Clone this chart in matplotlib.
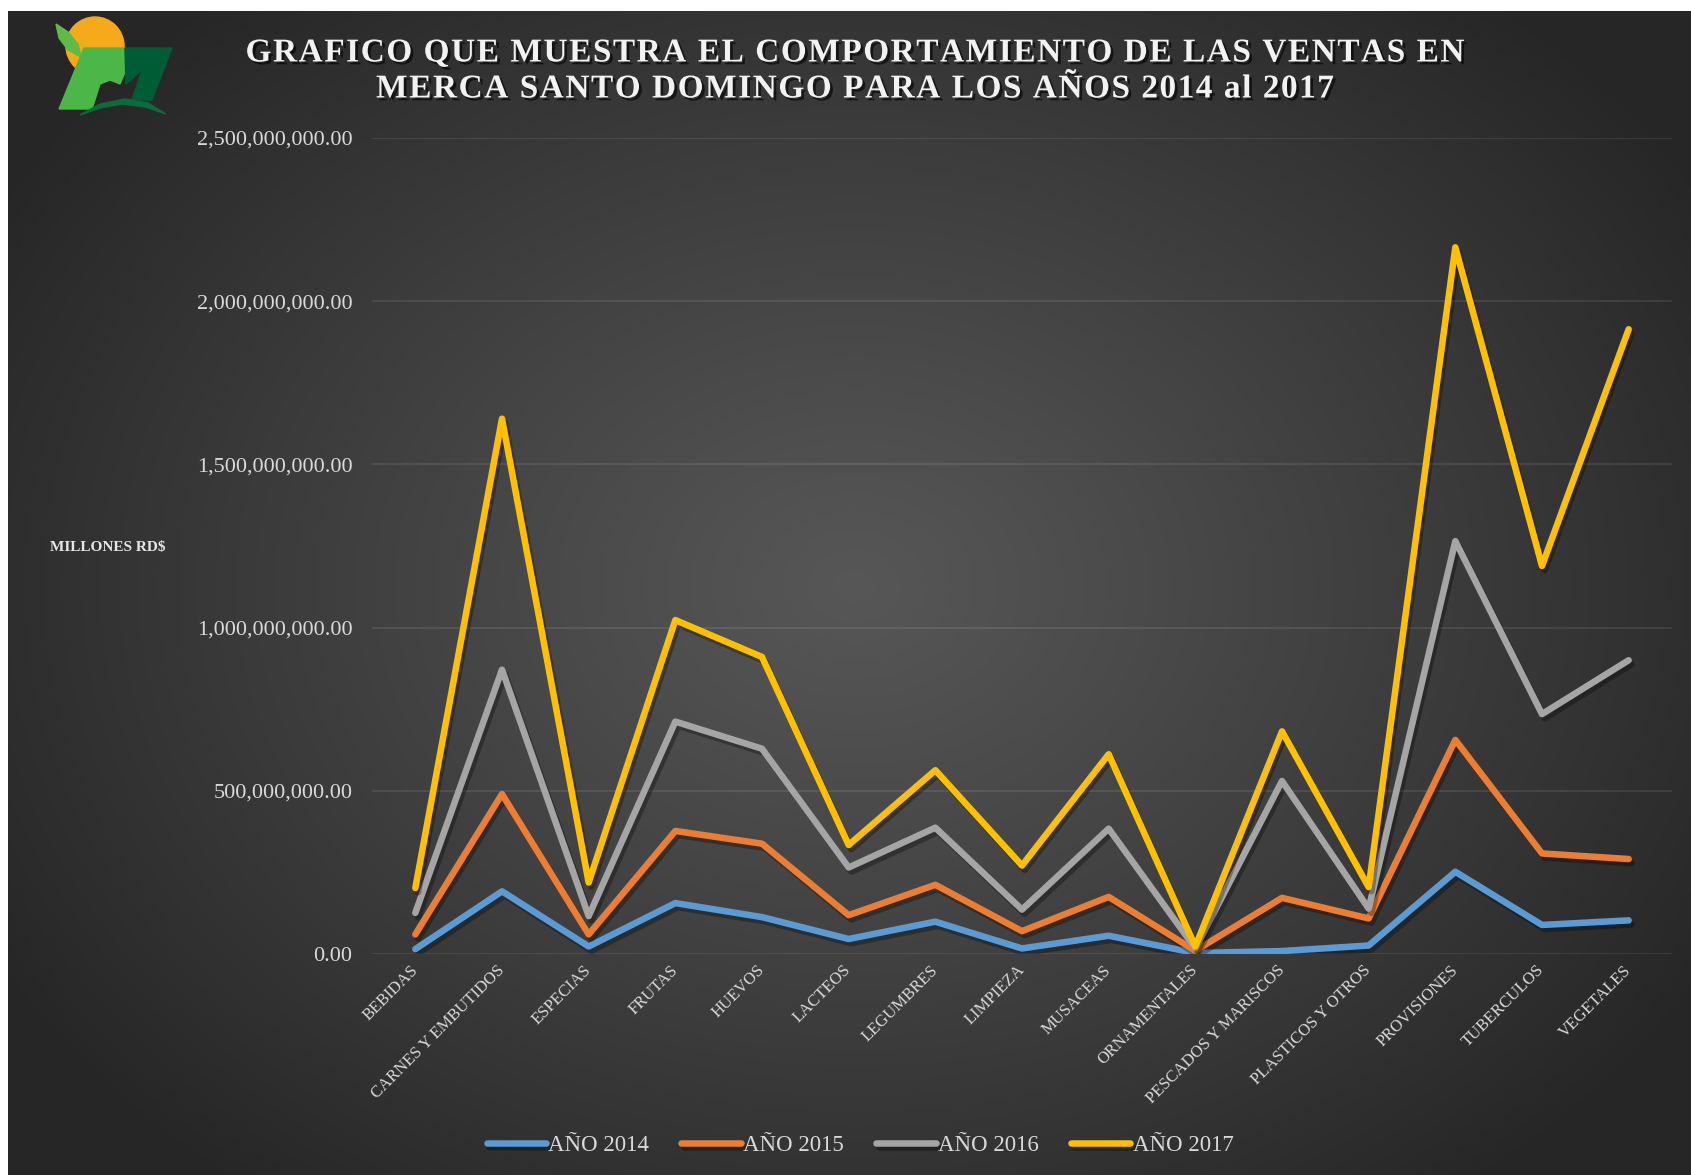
import numpy as np
import matplotlib
matplotlib.use("Agg")
import matplotlib.pyplot as plt
import matplotlib.patheffects as pe
from matplotlib.patches import Circle, Polygon
from matplotlib.ticker import FuncFormatter, MultipleLocator

categories = ["BEBIDAS", "CARNES Y EMBUTIDOS", "ESPECIAS", "FRUTAS", "HUEVOS",
              "LACTEOS", "LEGUMBRES", "LIMPIEZA", "MUSACEAS", "ORNAMENTALES",
              "PESCADOS Y MARISCOS", "PLASTICOS Y OTROS", "PROVISIONES",
              "TUBERCULOS", "VEGETALES"]

ventas_2014 = [15e6, 192e6, 23e6, 156e6, 113e6, 46e6, 99e6, 17e6, 56e6, 3e6,
               9e6, 26e6, 252e6, 89e6, 103e6]
ventas_2015 = [60e6, 490e6, 60e6, 377e6, 338e6, 119e6, 212e6, 70e6, 175e6, 10e6,
               172e6, 109e6, 656e6, 308e6, 291e6]
ventas_2016 = [126e6, 871e6, 116e6, 712e6, 629e6, 265e6, 387e6, 136e6, 384e6, 17e6,
               530e6, 139e6, 1265e6, 735e6, 900e6]
ventas_2017 = [202e6, 1640e6, 219e6, 1023e6, 910e6, 334e6, 563e6, 271e6, 612e6, 23e6,
               682e6, 205e6, 2165e6, 1189e6, 1914e6]

series_labels = ["AÑO 2014", "AÑO 2015", "AÑO 2016", "AÑO 2017"]
series_colors = ["#5B9BD5", "#ED7D31", "#A5A5A5", "#FFC000"]

titulo = ["GRAFICO QUE MUESTRA EL COMPORTAMIENTO DE LAS VENTAS EN",
          "MERCA SANTO DOMINGO PARA LOS AÑOS 2014 al 2017"]

plt.rcParams['font.family'] = ['Liberation Serif', 'DejaVu Serif']

W, H = 1691, 1175
fig = plt.figure(figsize=(W / 100, H / 100), dpi=100)
fig.patch.set_facecolor("white")

# fondo con degradado radial
bg = fig.add_axes([8 / W, 0, 1 - 8 / W, 1 - 11 / H])
bg.set_axis_off()
yy, xx = np.mgrid[0:H, 0:W]
d = np.sqrt(((xx - 850) / 1000.0) ** 2 + ((yy - 580) / 780.0) ** 2)
d = np.clip(d, 0, 1)
g = 0.34 - (0.34 - 0.15) * d ** 1.1
bg.imshow(np.dstack([g, g, g]), aspect="auto", extent=[0, 1, 0, 1])

ax = fig.add_axes([372 / W, 1 - 954 / H, 1300 / W, 816 / H])
ax.set_facecolor("none")

x = np.arange(len(categories))
lines = []
for vals, lab, col in zip([ventas_2014, ventas_2015, ventas_2016, ventas_2017],
                          series_labels, series_colors):
    ln, = ax.plot(x, vals, color=col, lw=4.7, label=lab,
                  solid_capstyle="round", solid_joinstyle="round",
                  path_effects=[pe.SimpleLineShadow(offset=(2, -3), shadow_color="black", alpha=0.3),
                                pe.Normal()])
    lines.append(ln)

ax.set_xlim(-0.5, len(categories) - 0.5)
ax.set_ylim(0, 2.5e9)
ax.yaxis.set_major_locator(MultipleLocator(5e8))
ax.yaxis.set_major_formatter(FuncFormatter(lambda v, _: f"{v:,.2f}"))
ax.grid(axis="y", color="white", alpha=0.1, lw=1.2)
ax.set_axisbelow(True)
for s in ax.spines.values():
    s.set_visible(False)
ax.tick_params(axis="both", length=0, colors="#d9d9d9")
ax.tick_params(axis="y", labelsize=16, pad=14)
ax.set_xticks(x)
ax.set_xticklabels(categories, rotation=45, ha="right", va="center",
                   rotation_mode="anchor", fontsize=12)
ax.tick_params(axis="x", pad=10)

# titulo con espaciado entre letras
shadow = [pe.withSimplePatchShadow(offset=(2, -2), shadow_rgbFace="black", alpha=0.6)]
r = fig.canvas.get_renderer()
tkw = dict(fontsize=24, weight="bold", color="#f2f2f2", va="center", ha="left")


def char_w(ch):
    if ch == " ":
        a = fig.text(0, 0, "II", **tkw)
        b = fig.text(0, 0, "I I", **tkw)
        w = b.get_window_extent(r).width - a.get_window_extent(r).width
        a.remove()
        b.remove()
        return w
    t = fig.text(0, 0, ch, **tkw)
    w = t.get_window_extent(r).width
    t.remove()
    return w


w1 = [char_w(c) for c in titulo[0]]
track = (1219 - sum(w1)) / (len(titulo[0]) - 1)
for linea, yc in zip(titulo, [53, 89]):
    ws = [char_w(c) for c in linea]
    total = sum(ws) + track * (len(linea) - 1)
    xp = 855 - total / 2
    for c, w in zip(linea, ws):
        if c != " ":
            fig.text(xp / W, 1 - yc / H, c, path_effects=shadow, **tkw)
        xp += w + track

fig.text(50 / W, 1 - 548 / H, "MILLONES RD\\$", ha="left", va="center",
         fontsize=11, weight="bold", color="#e6e6e6")

fig.legend(handles=lines, loc="center", bbox_to_anchor=(860 / W, 1 - 1145 / H),
           ncol=4, frameon=False, fontsize=16.5, handlelength=2.6,
           handletextpad=0.1, columnspacing=1.4, labelcolor="#d9d9d9")

# logo
lg = fig.add_axes([0, 0, 1, 1])
lg.set_xlim(0, W)
lg.set_ylim(H, 0)
lg.set_axis_off()
lg.add_patch(Circle((95, 46), 29, color="#F6A91B"))
lg.add_patch(Polygon([(56, 24), (68, 32), (78, 44), (81, 57), (68, 50), (59, 38)],
                     color="#5DBB46"))
lg.add_patch(Polygon([(59, 109), (84, 48), (124, 48), (126, 70), (120, 84),
                      (110, 80), (100, 84), (92, 109)], color="#4CB748"))
lg.add_patch(Polygon([(125, 48), (172, 48), (152, 100), (132, 100), (142, 70),
                      (126, 84)], color="#005C35"))
lg.add_patch(Polygon([(80, 115), (100, 104), (125, 99), (148, 103), (166, 114),
                      (145, 107), (122, 104), (100, 108)], color="#0B6B3A"))

fig.savefig("out.png", dpi=100)
